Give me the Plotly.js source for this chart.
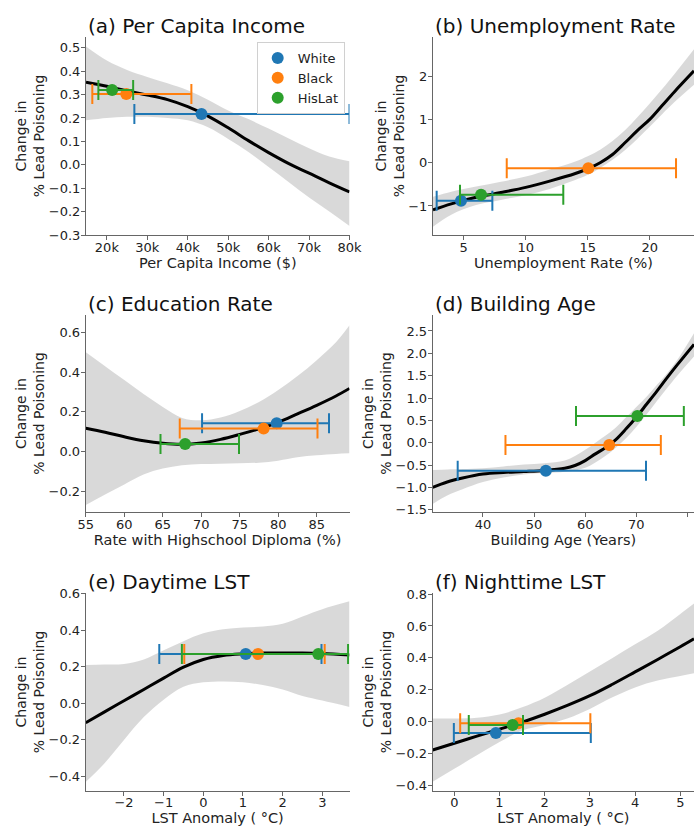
<!DOCTYPE html>
<html>
<head>
<meta charset="utf-8">
<script src="https://cdn.plot.ly/plotly-3.0.1.min.js"></script>
<style>html,body{margin:0;padding:0;background:#fff}#chart{width:694px;height:827px}</style>
</head>
<body>
<div id="chart"></div>
<script>
// ---------- groups ----------
const groups = ['White', 'Black', 'HisLat'];
const groupColors = ['#1f77b4', '#ff7f0e', '#2ca02c'];

// ---------- (a) Per Capita Income ----------
const incomeX     = [14840, 20000, 25000, 30000, 35000, 40000, 45000, 50000, 55000, 60000, 65000, 70000, 75000, 80000];
const incomeFit   = [0.352, 0.335, 0.315, 0.298, 0.278, 0.248, 0.208, 0.158, 0.103, 0.052, 0.005, -0.036, -0.077, -0.116];
const incomeUpper = [0.505, 0.445, 0.405, 0.375, 0.348, 0.318, 0.278, 0.232, 0.195, 0.155, 0.112, 0.070, 0.035, 0.015];
const incomeLower = [0.190, 0.200, 0.205, 0.205, 0.200, 0.190, 0.160, 0.110, 0.055, -0.010, -0.075, -0.140, -0.200, -0.262];
const incomeGroupX  = [43400, 24800, 21300];
const incomeGroupY  = [0.217, 0.302, 0.319];
const incomeGroupLo = [26800, 16400, 17900];
const incomeGroupHi = [80000, 40900, 26500];

// ---------- (b) Unemployment Rate ----------
const unempX     = [2.52, 4, 6, 8, 10, 12, 14, 15, 16, 17, 18, 19, 20, 21, 22, 23.57];
const unempFit   = [-1.09, -0.95, -0.80, -0.69, -0.57, -0.42, -0.25, -0.14, 0.00, 0.19, 0.46, 0.74, 1.00, 1.32, 1.64, 2.12];
const unempUpper = [-0.785, -0.67, -0.55, -0.44, -0.32, -0.15, 0.03, 0.15, 0.30, 0.50, 0.75, 1.05, 1.37, 1.70, 2.05, 2.62];
const unempLower = [-1.48, -1.20, -0.98, -0.86, -0.75, -0.60, -0.40, -0.28, -0.12, 0.07, 0.29, 0.55, 0.83, 1.12, 1.40, 1.80];
const unempGroupX  = [4.78, 15.05, 6.40];
const unempGroupY  = [-0.877, -0.130, -0.740];
const unempGroupLo = [2.82, 8.47, 4.70];
const unempGroupHi = [7.31, 22.12, 13.03];

// ---------- (c) Education Rate ----------
const eduX     = [55, 57.5, 60, 62.5, 65, 67.5, 70, 72.5, 75, 77.5, 80, 82.5, 85, 87.5, 89.26];
const eduFit   = [0.118, 0.098, 0.075, 0.055, 0.042, 0.037, 0.044, 0.062, 0.087, 0.115, 0.148, 0.190, 0.233, 0.280, 0.318];
const eduUpper = [0.500, 0.430, 0.360, 0.290, 0.225, 0.170, 0.158, 0.172, 0.205, 0.250, 0.310, 0.380, 0.460, 0.550, 0.635];
const eduLower = [-0.268, -0.215, -0.165, -0.115, -0.085, -0.068, -0.062, -0.060, -0.058, -0.055, -0.045, -0.028, -0.018, -0.011, -0.008];
const eduGroupX  = [79.8, 78.1, 67.9];
const eduGroupY  = [0.143, 0.116, 0.039];
const eduGroupLo = [70.1, 67.2, 64.7];
const eduGroupHi = [86.6, 85.1, 74.9];

// ---------- (d) Building Age ----------
const ageX     = [30.16, 33, 36, 40, 44, 48, 52, 56, 58, 60, 62, 64, 66, 68, 70, 72, 74, 76, 78, 81.29];
const ageFit   = [-1.00, -0.88, -0.79, -0.70, -0.665, -0.645, -0.62, -0.57, -0.51, -0.40, -0.25, -0.11, 0.07, 0.31, 0.57, 0.86, 1.15, 1.45, 1.74, 2.20];
const ageUpper = [-0.61, -0.60, -0.59, -0.57, -0.53, -0.49, -0.46, -0.40, -0.30, -0.16, 0.00, 0.16, 0.34, 0.57, 0.80, 1.03, 1.29, 1.55, 1.85, 2.45];
const ageLower = [-1.37, -1.18, -1.04, -0.88, -0.78, -0.71, -0.68, -0.65, -0.62, -0.56, -0.44, -0.29, -0.11, 0.10, 0.35, 0.63, 0.93, 1.22, 1.50, 1.93];
const ageGroupX  = [52.3, 64.7, 70.2];
const ageGroupY  = [-0.625, -0.050, 0.600];
const ageGroupLo = [35.05, 44.4, 58.2];
const ageGroupHi = [71.9, 74.8, 79.3];

// ---------- (e) Daytime LST ----------
const dayX     = [-2.965, -2.5, -2, -1.5, -1, -0.5, 0, 0.5, 1, 1.5, 2, 2.5, 3, 3.686];
const dayFit   = [-0.106, -0.048, 0.014, 0.076, 0.138, 0.198, 0.240, 0.262, 0.271, 0.275, 0.276, 0.275, 0.272, 0.264];
const dayUpper = [0.210, 0.212, 0.215, 0.240, 0.290, 0.340, 0.383, 0.405, 0.415, 0.420, 0.435, 0.475, 0.515, 0.558];
const dayLower = [-0.430, -0.330, -0.200, -0.075, 0.020, 0.091, 0.115, 0.120, 0.115, 0.100, 0.075, 0.040, 0.015, -0.020];
const dayGroupX  = [1.07, 1.38, 2.90];
const dayGroupY  = [0.270, 0.270, 0.270];
const dayGroupLo = [-1.11, -0.48, -0.54];
const dayGroupHi = [2.98, 3.06, 3.65];

// ---------- (f) Nighttime LST ----------
const nightX     = [-0.478, 0, 0.5, 1, 1.5, 2, 2.5, 3, 3.5, 4, 4.5, 5, 5.303];
const nightFit   = [-0.177, -0.135, -0.090, -0.047, -0.003, 0.047, 0.102, 0.163, 0.235, 0.312, 0.390, 0.470, 0.520];
const nightUpper = [0.020, 0.020, 0.025, 0.045, 0.090, 0.150, 0.230, 0.315, 0.400, 0.485, 0.570, 0.675, 0.740];
const nightLower = [-0.376, -0.295, -0.210, -0.127, -0.055, -0.020, 0.020, 0.080, 0.153, 0.215, 0.258, 0.287, 0.303];
const nightGroupX  = [0.92, 1.42, 1.29];
const nightGroupY  = [-0.070, -0.010, -0.020];
const nightGroupLo = [-0.01, 0.13, 0.32];
const nightGroupHi = [3.02, 3.01, 1.52];

// ---------- text ----------
const panelTitles = ['(a) Per Capita Income', '(b) Unemployment Rate', '(c) Education Rate',
                     '(d) Building Age', '(e) Daytime LST', '(f) Nighttime LST'];
const xTitles = ['Per Capita Income ($)', 'Unemployment Rate (%)', 'Rate with Highschool Diploma (%)',
                 'Building Age (Years)', 'LST Anomaly ( °C)', 'LST Anomaly ( °C)'];
const yTitle = 'Change in<br>% Lead Poisoning';

// ---------- panel configuration (layout only) ----------
const W = 694, H = 827;
const panels = [
  {x:incomeX, fit:incomeFit, up:incomeUpper, lo:incomeLower,
   gx:incomeGroupX, gy:incomeGroupY, glo:incomeGroupLo, ghi:incomeGroupHi,
   px:[86,349.5], py:[37,235], xr:[14840,80000], yr:[-0.3,0.5457], xdt:10000, ydt:0.1, xfmt:'~s', yfmt:'.1f'},
  {x:unempX, fit:unempFit, up:unempUpper, lo:unempLower,
   gx:unempGroupX, gy:unempGroupY, glo:unempGroupLo, ghi:unempGroupHi,
   px:[433,694], py:[37,235], xr:[2.524,23.57], yr:[-1.67,2.903], xdt:5, ydt:1, xfmt:'', yfmt:''},
  {x:eduX, fit:eduFit, up:eduUpper, lo:eduLower,
   gx:eduGroupX, gy:eduGroupY, glo:eduGroupLo, ghi:eduGroupHi,
   px:[85.7,349.5], py:[315,512], xr:[54.98,89.26], yr:[-0.303,0.687], xdt:5, ydt:0.2, xfmt:'', yfmt:'.1f'},
  {x:ageX, fit:ageFit, up:ageUpper, lo:ageLower,
   gx:ageGroupX, gy:ageGroupY, glo:ageGroupLo, ghi:ageGroupHi,
   px:[432.7,694], py:[315,512], xr:[30.16,81.29], yr:[-1.55,2.857], xdt:10, ydt:0.5, xfmt:'', yfmt:'.1f'},
  {x:dayX, fit:dayFit, up:dayUpper, lo:dayLower,
   gx:dayGroupX, gy:dayGroupY, glo:dayGroupLo, ghi:dayGroupHi,
   px:[85.7,349.5], py:[593.3,790.7], xr:[-2.965,3.686], yr:[-0.478,0.602], xdt:1, ydt:0.2, xfmt:'', yfmt:'.1f'},
  {x:nightX, fit:nightFit, up:nightUpper, lo:nightLower,
   gx:nightGroupX, gy:nightGroupY, glo:nightGroupLo, ghi:nightGroupHi,
   px:[432.7,694], py:[593.3,790.7], xr:[-0.478,5.303], yr:[-0.432,0.8045], xdt:1, ydt:0.2, xfmt:'', yfmt:'.1f'}
];

const FONT = 'DejaVu Sans, Liberation Sans, sans-serif';
const axisCommon = {
  showline:true, linecolor:'#666', linewidth:1, mirror:false,
  ticks:'outside', ticklen:4, tickwidth:1, tickcolor:'#666',
  showgrid:false, zeroline:false, fixedrange:true,
  tickfont:{family:FONT, size:13, color:'#222'}
};

const traces = [];
const layout = {
  width:W, height:H, margin:{l:0,r:0,t:0,b:0},
  paper_bgcolor:'#fff', plot_bgcolor:'#fff',
  font:{family:FONT, color:'#222'},
  showlegend:true,
  legend:{x:256.7/W, y:1-42/H, xanchor:'left', yanchor:'top', bgcolor:'#fff', bordercolor:'#d0d0d0', borderwidth:1,
          font:{family:FONT, size:13, color:'#222'}, tracegroupgap:0, itemsizing:'constant'},
  annotations:[]
};

panels.forEach((p, i) => {
  const n = i === 0 ? '' : String(i + 1);
  const xa = 'x' + n, ya = 'y' + n;
  traces.push({x:p.x, y:p.lo, xaxis:xa, yaxis:ya, mode:'lines', line:{width:0, shape:'spline', color:'rgba(0,0,0,0)'},
               hoverinfo:'skip', showlegend:false});
  traces.push({x:p.x, y:p.up, xaxis:xa, yaxis:ya, mode:'lines', line:{width:0, shape:'spline', color:'rgba(0,0,0,0)'},
               fill:'tonexty', fillcolor:'rgba(0,0,0,0.15)', hoverinfo:'skip', showlegend:false});
  traces.push({x:p.x, y:p.fit, xaxis:xa, yaxis:ya, mode:'lines', line:{width:3, shape:'spline', color:'#000'},
               showlegend:false});
  groups.forEach((g, k) => {
    traces.push({
      x:[p.gx[k]], y:[p.gy[k]], xaxis:xa, yaxis:ya, mode:'markers', name:g, legendgroup:g,
      showlegend:i === 0,
      marker:{color:groupColors[k], size:12},
      error_x:{type:'data', symmetric:false, array:[p.ghi[k]-p.gx[k]], arrayminus:[p.gx[k]-p.glo[k]],
               color:groupColors[k], thickness:2, width:10}
    });
  });
  layout['xaxis' + n] = Object.assign({}, axisCommon, {
    anchor:ya, domain:[p.px[0]/W, p.px[1]/W], range:p.xr, dtick:p.xdt, tick0:0, tickformat:p.xfmt,
    ticklabelstandoff:-4,
    title:{text:xTitles[i], font:{family:FONT, size:14.5, color:'#222'}, standoff:2}
  });
  layout['yaxis' + n] = Object.assign({}, axisCommon, {
    anchor:xa, domain:[1-p.py[1]/H, 1-p.py[0]/H], range:p.yr, dtick:p.ydt, tick0:0, tickformat:p.yfmt,
    ticklabelstandoff:-2,
    title:{text:yTitle, font:{family:FONT, size:14, color:'#222'}, standoff:0}
  });
  layout.annotations.push({
    xref:'paper', yref:'paper', x:p.px[0]/W, y:1-(p.py[0]-11)/H, xanchor:'left', yanchor:'middle',
    text:panelTitles[i], showarrow:false, font:{family:FONT, size:20, color:'#111'}
  });
});

Plotly.newPlot('chart', traces, layout, {displayModeBar:false, staticPlot:true});
</script>
</body>
</html>
